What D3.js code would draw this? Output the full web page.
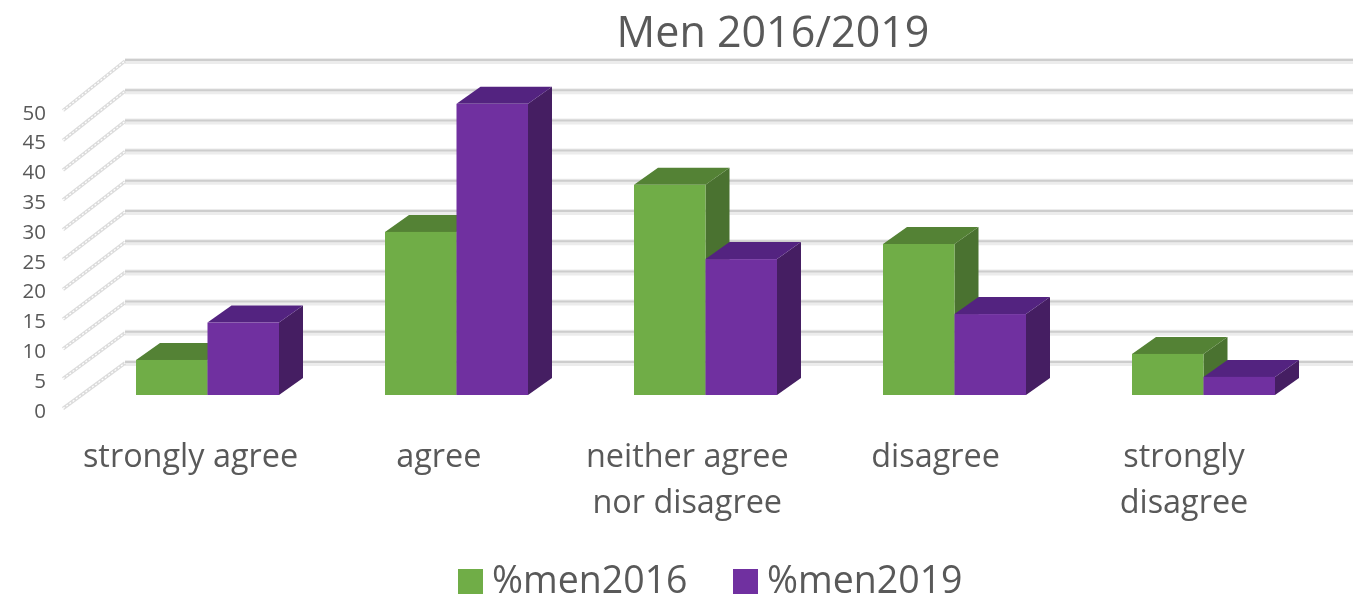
<!DOCTYPE html>
<html>
<head>
<meta charset="utf-8">
<script src="https://cdn.jsdelivr.net/npm/d3@7"></script>
<style>
  html, body { margin: 0; padding: 0; background: #fff; }
  svg { display: block; }
  text { font-family: "Open Sans", "Noto Sans", sans-serif; fill: #595959; }
</style>
</head>
<body>
<div id="myChart"></div>
<script>
const svgW = 1353;
const svgH = 597;

const categories = ["strongly agree", "agree", "neither agree nor disagree", "disagree", "strongly disagree"];
const categoryLines = [["strongly agree"], ["agree"], ["neither agree", "nor disagree"], ["disagree"], ["strongly", "disagree"]];
const seriesNames = ["%men2016", "%men2019"];
const men2016 = [5.8, 27, 34.8, 25, 6.8];
const men2019 = [12, 48.2, 22.5, 13.4, 3];
const yTicks = [0, 5, 10, 15, 20, 25, 30, 35, 40, 45, 50];

const colors = { "%men2016": ["#70ad47", "#548235", "#4a7230"], "%men2019": ["#7030a0", "#532380", "#451e62"] };

const svg = d3.select("#myChart").append("svg")
  .attr("width", svgW)
  .attr("height", svgH);

// chart is a fake 3d one, so the depth is just an offset
const barDepth = { x: 24, y: -17 };

const x = d3.scaleBand().domain(categories).range([83, 1328]);
const xSeries = d3.scaleBand().domain(seriesNames).range([53, 196]);
const xLabel = d3.scalePoint().domain(categories).range([190.5, 1184]);
const y = d3.scaleLinear().domain([0, 50]).range([395, 93]);
const yBack = d3.scaleLinear().domain([0, 50]).range([363, 61]);
const yLabel = d3.scaleLinear().domain([0, 50]).range([410.5, 112.5]);

// back wall gridlines
const marks = svg.append("g").style("filter", "blur(0.6px)");

const grid = marks.append("g").selectAll("g").data(yTicks).enter().append("g");
grid.append("line")
  .attr("x1", 125).attr("x2", svgW)
  .attr("y1", d => yBack(d)).attr("y2", d => yBack(d))
  .style("stroke", "#ececec").style("stroke-width", 6);
grid.append("line")
  .attr("x1", 125).attr("x2", svgW)
  .attr("y1", d => yBack(d) - 1).attr("y2", d => yBack(d) - 1)
  .style("stroke", "#cdcdcd").style("stroke-width", 2);

// side wall lines, they look dotted in the original
grid.append("line")
  .attr("x1", 63).attr("x2", 125)
  .attr("y1", d => yLabel(d) - 2).attr("y2", d => yBack(d))
  .style("stroke", "#dcdcdc").style("stroke-width", 3.5);
grid.append("line")
  .attr("x1", 63).attr("x2", 125)
  .attr("y1", d => yLabel(d) - 2).attr("y2", d => yBack(d))
  .style("stroke", "#ffffff").style("stroke-width", 1.2)
  .style("stroke-dasharray", "2 2");

// bars, left to right so 2019 covers the side of 2016
const rows = [];
categories.forEach((c, i) => {
  rows.push({ cat: c, name: "%men2016", value: men2016[i] });
  rows.push({ cat: c, name: "%men2019", value: men2019[i] });
});

const bars = marks.append("g").selectAll("g")
  .data(rows)
  .enter().append("g");

const barL = d => x(d.cat) + xSeries(d.name);
const barR = d => barL(d) + xSeries.bandwidth();

// side
bars.append("polygon")
  .attr("fill", d => colors[d.name][2])
  .attr("points", d => [
    [barR(d), y(0)], [barR(d) + barDepth.x, y(0) + barDepth.y],
    [barR(d) + barDepth.x, y(d.value) + barDepth.y], [barR(d), y(d.value)]
  ].join(" "));
// top
bars.append("polygon")
  .attr("fill", d => colors[d.name][1])
  .attr("points", d => [
    [barL(d), y(d.value)], [barL(d) + barDepth.x, y(d.value) + barDepth.y],
    [barR(d) + barDepth.x, y(d.value) + barDepth.y], [barR(d), y(d.value)]
  ].join(" "));
// front
bars.append("rect")
  .attr("fill", d => colors[d.name][0])
  .attr("x", barL)
  .attr("y", d => y(d.value))
  .attr("width", xSeries.bandwidth())
  .attr("height", d => y(0) - y(d.value));

const labels = svg.append("g").style("filter", "blur(0.4px)");

// y axis labels
const yAxis = d3.axisLeft(yLabel).tickValues(yTicks).tickSize(0).tickPadding(0);
const yAxisG = labels.append("g").attr("transform", "translate(46,0)").call(yAxis);
yAxisG.select(".domain").remove();
yAxisG.selectAll("text").style("font-size", "20.5px");

// category labels
labels.append("g").selectAll("text")
  .data(categories)
  .enter().append("text")
  .attr("text-anchor", "middle")
  .style("font-size", "32.4px")
  .each(function(d, i) {
    d3.select(this).selectAll("tspan")
      .data(categoryLines[i])
      .enter().append("tspan")
      .attr("x", xLabel(d))
      .attr("y", (t, j) => 467 + j * 46)
      .text(t => t);
  });

labels.append("text")
  .attr("x", 773)
  .attr("y", 47)
  .attr("text-anchor", "middle")
  .style("font-size", "43px")
  .text("Men 2016/2019");

// legend
const legendX = d3.scaleOrdinal().domain(seriesNames).range([458, 733]);
const legend = labels.append("g").selectAll("g")
  .data(seriesNames)
  .enter().append("g")
  .attr("transform", d => "translate(" + legendX(d) + ",0)");
legend.append("rect")
  .attr("y", 569).attr("width", 25).attr("height", 25)
  .attr("fill", d => colors[d][0]);
legend.append("text")
  .attr("x", 34).attr("y", 593)
  .style("font-size", "37.5px")
  .text(d => d);
</script>
</body>
</html>
